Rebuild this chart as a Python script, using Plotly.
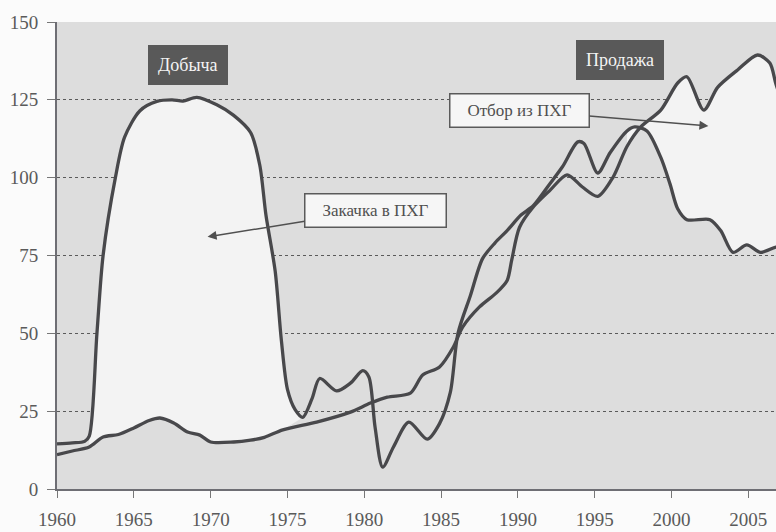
import plotly.graph_objects as go

# ---- data ----
prod_years = [1960, 1961, 1961.8, 1962.1, 1962.6, 1963.0, 1963.8, 1964.4, 1965.4, 1966.5, 1967.5,
              1968.2, 1969.1, 1970.4, 1971.5, 1972.6, 1973.2, 1973.6, 1974.2, 1974.6, 1975.0,
              1975.5, 1976.0, 1976.6, 1977.1, 1978.2, 1979.1, 1979.9, 1980.3, 1980.7, 1981.2,
              1981.9, 1982.9, 1984.1, 1984.9, 1985.6, 1986.1, 1986.9, 1987.7, 1988.5, 1989.3,
              1990.2, 1991.0, 1992.0, 1992.9, 1993.9, 1994.3, 1995.2, 1996.0, 1997.1, 1997.6,
              1998.4, 1999.3, 1999.9, 2000.4, 2001.0, 2002.5, 2003.2, 2004.0, 2004.9, 2005.8,
              2006.8, 2007.5]
prod_values = [14.5, 14.8, 15.3, 17, 50, 75, 100, 113, 121.5, 124.5, 125,
               124.6, 125.8, 123.4, 120, 114.5, 104, 88, 70, 48, 32,
               25.5, 23, 29, 35.5, 31.5, 34, 38, 36, 20, 7,
               13.5, 21.5, 16, 21, 31, 50, 62, 74, 79, 83,
               88, 91, 97.5, 103.5, 111.5, 111, 101.5, 108, 115, 116.3,
               115, 106.5, 98, 90, 86.5, 86.5, 83, 76, 78.4, 76,
               77.7, 78]

sales_years = [1960, 1961, 1962.1, 1963, 1964, 1965, 1966, 1966.7, 1967.6, 1968.5, 1969.3,
               1970, 1971.5, 1972.6, 1973.5, 1974.7, 1976.9, 1979.1, 1980.4, 1981.5, 1983,
               1983.8, 1984.9, 1985.8, 1986.4, 1987.5, 1988.6, 1989.3, 1989.6, 1990.1, 1991,
               1992.1, 1993.2, 1994.2, 1995.2, 1996.2, 1997.1, 1998, 1999.3, 2000.4, 2001,
               2002.1, 2003, 2004.3, 2005.6, 2006.4, 2006.8, 2007.5]
sales_values = [11, 12.2, 13.5, 16.7, 17.5, 19.6, 22, 22.8, 21.2, 18.3, 17.3,
                15.1, 15.1, 15.7, 16.6, 19, 21.5, 24.7, 27.6, 29.5, 30.8,
                36.6, 39.2, 45.6, 52, 58.5, 63, 67, 73.6, 84, 90.6,
                96, 100.9, 97, 94, 100.2, 110, 116.3, 121.7, 130.4, 132.4,
                121.7, 129, 134.6, 139.4, 136.8, 130, 120]

# periods where the gap between the curves is shaded (injection / withdrawal)
inject_period = (1962.0, 1976.0)
withdraw_period = (1997.1, 2007.5)

y_ticks = [0, 25, 50, 75, 100, 125, 150]
x_ticks = [1960, 1965, 1970, 1975, 1980, 1985, 1990, 1995, 2000, 2005]

label_prod = "Добыча"
label_sales = "Продажа"
label_inject = "Закачка в ПХГ"
label_withdraw = "Отбор из ПХГ"

LINE = "#48484b"
SERIF = "Liberation Serif, Times New Roman, serif"
FILL = "#f3f3f3"


def subset(xs, ys, lo, hi):
    pts = [(x, y) for x, y in zip(xs, ys) if lo <= x <= hi]
    return [p[0] for p in pts], [p[1] for p in pts]


fig = go.Figure()

# shaded regions between the curves
for lo, hi in (inject_period, withdraw_period):
    sx, sy = subset(sales_years, sales_values, lo, hi)
    px, py = subset(prod_years, prod_values, lo, hi)
    fig.add_trace(go.Scatter(x=sx, y=sy, mode="lines",
                             line=dict(width=0, shape="spline", smoothing=0.8),
                             hoverinfo="skip"))
    fig.add_trace(go.Scatter(x=px, y=py, mode="lines", fill="tonexty", fillcolor=FILL,
                             line=dict(width=0, shape="spline", smoothing=0.8),
                             hoverinfo="skip"))

fig.add_trace(go.Scatter(x=sales_years, y=sales_values, mode="lines", name=label_sales,
                         line=dict(color=LINE, width=3.3, shape="spline", smoothing=0.8),
                         hoverinfo="skip"))
fig.add_trace(go.Scatter(x=prod_years, y=prod_values, mode="lines", name=label_prod,
                         line=dict(color=LINE, width=3.3, shape="spline", smoothing=0.8),
                         hoverinfo="skip"))

fig.update_layout(
    width=776, height=532,
    margin=dict(l=57, r=0, t=22, b=43),
    paper_bgcolor="#fbfbfb",
    plot_bgcolor="#dddddd",
    showlegend=False,
    font=dict(family=SERIF, color="#5a5a5a"),
    xaxis=dict(range=[1960, 2006.8], tickvals=x_ticks, ticks="outside", ticklen=7,
               tickcolor="#777777", tickwidth=1, showgrid=False, zeroline=False,
               showline=True, linecolor="#6e6e74", linewidth=2,
               tickfont=dict(size=19, family=SERIF, color="#5a5a5a"),
               ticklabelstandoff=5),
    yaxis=dict(range=[0, 150], tickvals=y_ticks, ticks="outside", ticklen=8,
               tickcolor="#777777", tickwidth=1, showgrid=True, gridcolor="#5a5a5a",
               griddash="dot", gridwidth=1, zeroline=False,
               showline=True, linecolor="#6e6e74", linewidth=2,
               tickfont=dict(size=19, family=SERIF, color="#5a5a5a"),
               ticklabelstandoff=5),
)

# dark label boxes
fig.add_annotation(x=1968.5, y=136.2, text=label_prod, showarrow=False,
                   font=dict(family=SERIF, size=18, color="#f4f4f4"),
                   bgcolor="#595959", borderpad=10, borderwidth=0)
fig.add_annotation(x=1996.65, y=137.8, text=label_sales, showarrow=False,
                   font=dict(family=SERIF, size=18, color="#f4f4f4"),
                   bgcolor="#595959", borderpad=10, borderwidth=0)

# callouts with arrows
fig.add_annotation(x=2002.4, y=116.6, ax=1990.1, ay=121.7, axref="x", ayref="y",
                   text=label_withdraw, showarrow=True, arrowhead=2, arrowsize=1.2,
                   arrowwidth=1.5, arrowcolor="#505050", width=128, height=22,
                   font=dict(family=SERIF, size=17, color="#505050"),
                   bgcolor="#f6f6f6", bordercolor="#5a5a5a", borderwidth=1.5, borderpad=5)
fig.add_annotation(x=1969.8, y=81.0, ax=1980.73, ay=89.6, axref="x", ayref="y",
                   text=label_inject, showarrow=True, arrowhead=2, arrowsize=1.2,
                   arrowwidth=1.5, arrowcolor="#505050", width=130, height=22,
                   font=dict(family=SERIF, size=17, color="#505050"),
                   bgcolor="#f6f6f6", bordercolor="#5a5a5a", borderwidth=1.5, borderpad=5)

fig.write_html("out.html", config={"displayModeBar": False},
               post_script="document.body.style.margin='0px';")
